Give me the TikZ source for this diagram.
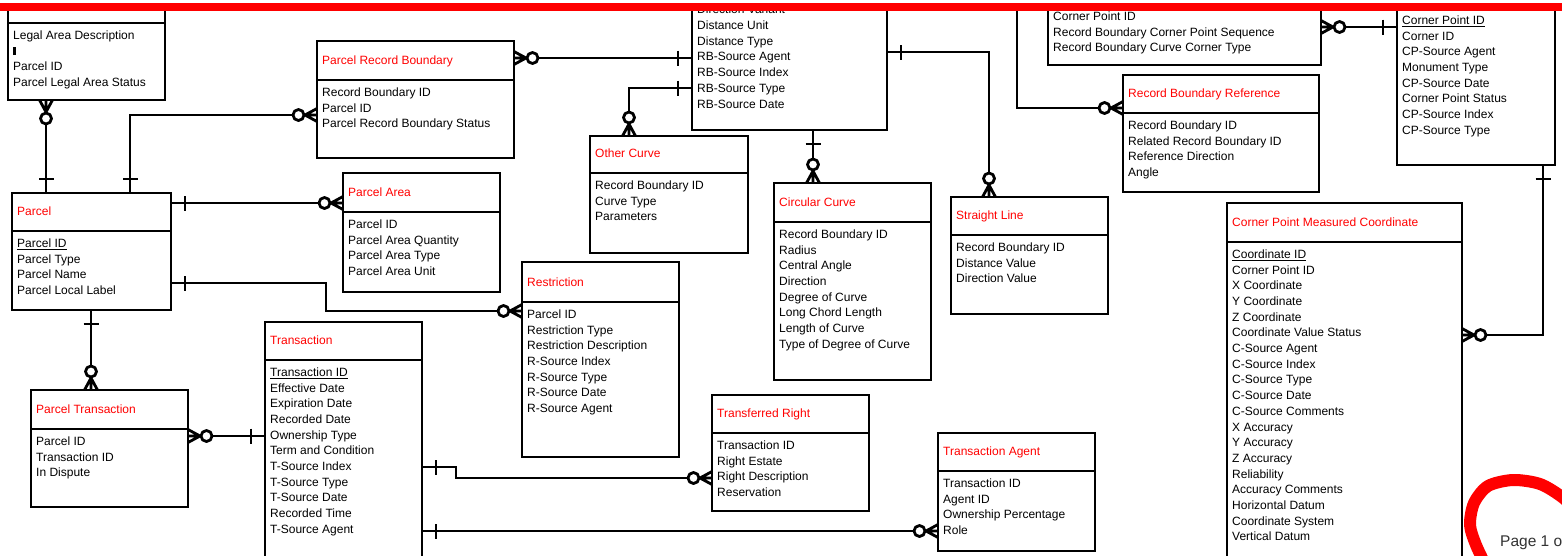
\documentclass[tikz,border=0pt]{standalone}
\usepackage{tikz}
\usepackage{fontspec}
\setmainfont{Liberation Sans}
\definecolor{headred}{HTML}{FF0000}
\definecolor{pagegray}{HTML}{333333}

% zero-or-many and exactly-one ends
\pgfdeclarearrow{
  name = zmany,
  setup code = {
    \pgfarrowssettipend{0pt}
    \pgfarrowssetlineend{-24pt}
    \pgfarrowssetbackend{-25pt}
    \pgfarrowssetvisualbackend{-25pt}
  },
  drawing code = {
    \pgfsetdash{}{0pt}
    \pgfsetlinewidth{2.8pt}
    \pgfsetbuttcap
    \pgfsetroundjoin
    \pgfpathmoveto{\pgfqpoint{0pt}{6.5pt}}
    \pgfpathlineto{\pgfqpoint{-12pt}{0pt}}
    \pgfpathlineto{\pgfqpoint{0pt}{-6.5pt}}
    \pgfpathmoveto{\pgfqpoint{-12.5pt}{0pt}}
    \pgfpathlineto{\pgfqpoint{0pt}{0pt}}
    \pgfusepathqstroke
    \pgfpathcircle{\pgfqpoint{-18.5pt}{0pt}}{5.5pt}
    \pgfusepathqstroke
  }
}
\pgfdeclarearrow{
  name = onebar,
  setup code = {
    \pgfarrowssettipend{0pt}
    \pgfarrowssetlineend{0pt}
    \pgfarrowssetbackend{-16pt}
    \pgfarrowssetvisualbackend{-16pt}
  },
  drawing code = {
    \pgfsetdash{}{0pt}
    \pgfsetlinewidth{2.8pt}
    \pgfsetbuttcap
    \pgfpathmoveto{\pgfqpoint{-14pt}{7.5pt}}
    \pgfpathlineto{\pgfqpoint{-14pt}{-7.5pt}}
    \pgfusepathqstroke
  }
}

\tikzset{
  entbox/.style={draw,line width=2.8pt,inner sep=0pt,outer sep=0pt,anchor=north west},
  entline/.style={line width=2.8pt},
  enttitle/.style={anchor=base west,inner sep=0pt,text=headred,font=\fontsize{12}{15.7}\selectfont},
  attr/.style={anchor=base west,inner sep=0pt,font=\fontsize{12}{15.7}\selectfont},
  rel/.style={line width=2.8pt},
  redmark/.style={draw=headred,line width=12pt,line cap=round},
  pagelbl/.style={anchor=base west,inner sep=0pt,text=pagegray,font=\fontsize{15.5}{18}\selectfont}
}

% name, left, top, right, divider, bottom, title, fields
\newcommand{\entity}[8]{%
  \node[entbox,minimum width={(#4-#2)*1pt},minimum height={(#6-#3)*1pt}] (#1) at (#2,#3) {};
  \draw[entline] (#2,#5) -- (#4,#5);
  \if\relax\detokenize{#7}\relax\else\node[enttitle] (#1t) at (#2+5,#5-15.5) {#7};\fi
  \foreach \fld [count=\i from 0] in {#8} {\node[attr] (#1a\i) at (#2+5,#5+16.3+15.7*\i) {\fld};}
}

\begin{document}
\begin{tikzpicture}[x=1pt,y=-1pt]
  \useasboundingbox[fill=white] (0,0) rectangle (1562,555);
  \entity{legal}{8}{-20}{165}{23}{100}{}{Legal Area Description,\rule{3pt}{8.5pt},Parcel ID,Parcel Legal Area Status}
  \entity{prb}{317}{41}{514}{80}{158}{Parcel Record Boundary}{Record Boundary ID,Parcel ID,Parcel Record Boundary Status}
  \entity{parcel}{12}{193}{171}{231}{310}{Parcel}{\underline{Parcel ID},Parcel Type,Parcel Name,Parcel Local Label}
  \entity{parea}{343}{173}{500}{212}{292}{Parcel Area}{Parcel ID,Parcel Area Quantity,Parcel Area Type,Parcel Area Unit}
  \entity{ptrans}{31}{390}{188}{429}{507}{Parcel Transaction}{Parcel ID,Transaction ID,In Dispute}
  \entity{trans}{265}{322}{422}{360}{600}{Transaction}{\underline{Transaction ID},Effective Date,Expiration Date,Recorded Date,Ownership Type,Term and Condition,T-Source Index,T-Source Type,T-Source Date,Recorded Time,T-Source Agent}
  \entity{restr}{522}{262}{679}{302}{457}{Restriction}{Parcel ID,Restriction Type,Restriction Description,R-Source Index,R-Source Type,R-Source Date,R-Source Agent}
  \entity{tright}{712}{395}{869}{433}{511}{Transferred Right}{Transaction ID,Right Estate,Right Description,Reservation}
  \entity{tagent}{938}{433}{1095}{471}{551}{Transaction Agent}{Transaction ID,Agent ID,Ownership Percentage,Role}
  \entity{rb}{692}{-20}{887}{-2.5}{130}{}{Direction Variant,Distance Unit,Distance Type,RB-Source Agent,RB-Source Index,RB-Source Type,RB-Source Date}
  \entity{ocurve}{590}{136}{748}{173}{253}{Other Curve}{Record Boundary ID,Curve Type,Parameters}
  \entity{ccurve}{774}{183}{931}{222}{380}{Circular Curve}{Record Boundary ID,Radius,Central Angle,Direction,Degree of Curve,Long Chord Length,Length of Curve,Type of Degree of Curve}
  \entity{sline}{951}{197}{1108}{235}{314}{Straight Line}{Record Boundary ID,Distance Value,Direction Value}
  \entity{rbc}{1048}{-20}{1321}{4}{65}{}{Corner Point ID,Record Boundary Corner Point Sequence,Record Boundary Curve Corner Type}
  \entity{rbref}{1123}{75}{1319}{113}{192}{Record Boundary Reference}{Record Boundary ID,Related Record Boundary ID,Reference Direction,Angle}
  \entity{cpoint}{1397}{-20}{1555}{8}{165}{}{\underline{Corner Point ID},Corner ID,CP-Source Agent,Monument Type,CP-Source Date,Corner Point Status,CP-Source Index,CP-Source Type}
  \entity{cpmc}{1227}{203}{1462}{242}{600}{Corner Point Measured Coordinate}{\underline{Coordinate ID},Corner Point ID,X Coordinate,Y Coordinate,Z Coordinate,Coordinate Value Status,C-Source Agent,C-Source Index,C-Source Type,C-Source Date,C-Source Comments,X Accuracy,Y Accuracy,Z Accuracy,Reliability,Accuracy Comments,Horizontal Datum,Coordinate System,Vertical Datum}

  \draw[rel,arrows={zmany-onebar}] (legal.south -| 46,0) -- (parcel.north -| 46,0);
  \draw[rel,arrows={onebar-zmany}] (parcel.north -| 130,0) |- (prb.west |- 0,115);
  \draw[rel,arrows={onebar-zmany}] (parcel.east |- 0,203) -- (parea.west |- 0,203);
  \draw[rel,arrows={onebar-zmany}] (parcel.east |- 0,283) -| (326,311) -- (restr.west |- 0,311);
  \draw[rel,arrows={onebar-zmany}] (parcel.south -| 91,0) -- (ptrans.north -| 91,0);
  \draw[rel,arrows={onebar-zmany}] (trans.west |- 0,436) -- (ptrans.east |- 0,436);
  \draw[rel,arrows={onebar-zmany}] (trans.east |- 0,467) -| (456,478) -- (tright.west |- 0,478);
  \draw[rel,arrows={onebar-zmany}] (trans.east |- 0,531) -- (tagent.west |- 0,531);
  \draw[rel,arrows={onebar-zmany}] (rb.west |- 0,58) -- (prb.east |- 0,58);
  \draw[rel,arrows={onebar-zmany}] (rb.west |- 0,88) -| (ocurve.north -| 629,0);
  \draw[rel,arrows={onebar-zmany}] (rb.south -| 813,0) -- (ccurve.north -| 813,0);
  \draw[rel,arrows={onebar-zmany}] (rb.east |- 0,52) -| (sline.north -| 989,0);
  \coordinate (rbup) at (1017,-10);
  \draw[rel,arrows={-zmany}] (rbup) |- (rbref.west |- 0,108);
  \draw[rel,arrows={onebar-zmany}] (cpoint.west |- 0,27) -- (rbc.east |- 0,27);
  \draw[rel,arrows={onebar-zmany}] (cpoint.south -| 1543,0) |- (cpmc.east |- 0,335);

  \node[pagelbl] (pageno) at (1500,546) {Page 1 of 1};
  \draw[redmark] plot[smooth] coordinates {(1578,512) (1562,497) (1540,484) (1513,480) (1488,486) (1474,503) (1470,525) (1476,545) (1486,566)};
  \fill[white] (0,-2) rectangle (1562,3);
  \fill[headred] (0,3) rectangle (1562,11);
\end{tikzpicture}
\end{document}
